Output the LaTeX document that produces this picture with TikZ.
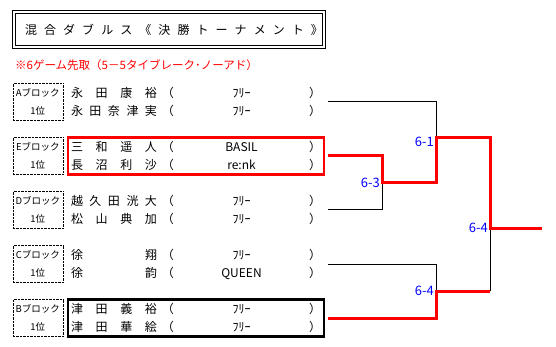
\documentclass[tikz,border=0pt]{standalone}
\usepackage{fontspec}
\setmainfont{Noto Sans CJK JP}
\usepackage{tikz}
\usetikzlibrary{positioning}

\newcommand{\pname}[1]{\makebox[86pt][s]{#1}}
\newcommand{\tname}[1]{\makebox[135pt][c]{#1}}

\begin{document}
\begin{tikzpicture}[
            x=1pt, y=-1pt,
            every node/.style={font=\fontsize{12}{18}\selectfont},
            titlebox/.style={
                    draw,
                    double,
                    double distance=1.7pt,
                    line width=1pt,
                    minimum width=310pt,
                    minimum height=35pt,
                    inner sep=0pt
                },
            pair/.style={
                    minimum width=256pt,
                    minimum height=37pt,
                    inner sep=0pt,
                    outer sep=4pt,
                    align=left
                },
            winbox/.style={
                    pair,
                    draw=red,
                    line width=2.5pt
                },
            finbox/.style={
                    pair,
                    draw,
                    line width=2.5pt
                },
            blk/.style={
                    draw,
                    densely dotted,
                    minimum width=50pt,
                    minimum height=37pt,
                    inner sep=0pt,
                    align=center,
                    font=\fontsize{9.5}{18}\selectfont
                },
            score/.style={
                    text=blue,
                    anchor=east,
                    inner sep=2pt,
                    font=\fontsize{13}{13}\selectfont
                },
            bracket/.style={
                    line width=1pt
                },
            win/.style={
                    draw=red,
                    line width=3pt
                }
        ]

        \useasboundingbox (0,0) rectangle (556,347);

        \node[titlebox] (title) at (169,29.5)
        {\hspace{10pt}\makebox[298pt][s]{混\hfill 合\hfill ダ\hfill ブ\hfill ル\hfill ス\hfill 《\hfill 決\hfill 勝\hfill ト\hfill ー\hfill ナ\hfill メ\hfill ン\hfill ト\hfill 》}};

        \node[anchor=west, text=red, font=\fontsize{11.5}{14}\selectfont, inner sep=0pt] (rule) at (15,65)
        {※6ゲーム先取（5－5タイブレーク･ノーアド）};

        \node[pair] (A) at (196,102)
        {
            \pname{永\hfill 田\hfill 康\hfill 裕}\hspace{5pt}（\tname{ﾌﾘｰ}）\\
            \pname{永\hfill 田\hfill 奈\hfill 津\hfill 実}\hspace{5pt}（\tname{ﾌﾘｰ}）
        };

        \node[winbox] (E) at (196,156)
        {
            \pname{三\hfill 和\hfill 遥\hfill 人}\hspace{5pt}（\tname{BASIL}）\\
            \pname{長\hfill 沼\hfill 利\hfill 沙}\hspace{5pt}（\tname{re:nk}）
        };

        \node[pair] (D) at (196,210)
        {
            \pname{越\hfill 久\hfill 田\hfill 洸\hfill 大}\hspace{5pt}（\tname{ﾌﾘｰ}）\\
            \pname{松\hfill 山\hfill 典\hfill 加}\hspace{5pt}（\tname{ﾌﾘｰ}）
        };

        \node[pair] (C) at (196,264)
        {
            \pname{徐\hfill 翔}\hspace{5pt}（\tname{ﾌﾘｰ}）\\
            \pname{徐\hfill 韵}\hspace{5pt}（\tname{QUEEN}）
        };

        \node[finbox] (B) at (196,318)
        {
            \pname{津\hfill 田\hfill 義\hfill 裕}\hspace{5pt}（\tname{ﾌﾘｰ}）\\
            \pname{津\hfill 田\hfill 華\hfill 絵}\hspace{5pt}（\tname{ﾌﾘｰ}）
        };

        \node[blk, left=1pt of A] (blkA) {Aブロック\\1位};
        \node[blk, left=1pt of E] (blkE) {Eブロック\\1位};
        \node[blk, left=1pt of D] (blkD) {Dブロック\\1位};
        \node[blk, left=1pt of C] (blkC) {Cブロック\\1位};
        \node[blk, left=1pt of B] (blkB) {Bブロック\\1位};

        \coordinate (m1) at (382,183);
        \coordinate (m2) at (436,138);
        \coordinate (m3) at (436,291);
        \coordinate (fin) at (490,228);
        \coordinate (champ) at (542,228);

        \draw[bracket] (A.east) -| (m2);
        \draw[bracket] (D.east) -| (m1);
        \draw[bracket] (C.east) -| (m3);
        \draw[bracket] (m3 -| fin) -- (fin);

        \draw[win] (E.east) -| (m1) -| (m2) -| (fin) -- (champ);
        \draw[win] (B.east) -| (m3) -- (m3 -| fin);

        \node[score] (s1) at (m1) {6-3};
        \node[score, yshift=-4pt] (s2) at (m2) {6-1};
        \node[score] (s3) at (fin) {6-4};
        \node[score] (s4) at (m3) {6-4};

    \end{tikzpicture}
\end{document}
